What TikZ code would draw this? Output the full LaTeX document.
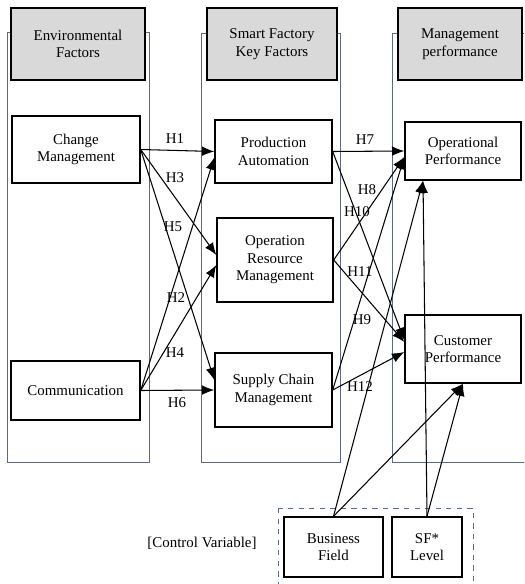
\documentclass[tikz,border=0pt]{standalone}
\usepackage{fontspec}
\setmainfont{Liberation Serif}
\usetikzlibrary{arrows.meta}
\definecolor{panelgray}{RGB}{95,105,125}
\definecolor{headfill}{RGB}{217,217,217}

\begin{document}
\begin{tikzpicture}[x=0.02cm, y=-0.02cm,
        font=\fontsize{8.5}{10}\selectfont,
        panel/.style={draw=panelgray, line width=0.5pt},
        header/.style={draw, fill=headfill, line width=0.8pt, align=center, minimum height=1.44cm},
        factor/.style={draw, fill=white, line width=0.8pt, align=center},
        hyp/.style={-{Latex[length=7pt,width=5.5pt]}, line width=0.6pt},
        hlabel/.style={inner sep=1pt}]
        \useasboundingbox (0,0) rectangle (524,584);
        \clip (0,0) rectangle (524,584);

        % columns
        \draw[panel] (7,32) rectangle (149,462);
        \draw[panel] (201,33) rectangle (340,462);
        \draw[panel] (392,33) rectangle (540,462);
        \draw[panelgray, dashed, line width=0.5pt] (278,508) rectangle (473,600);

        \node[header, minimum width=2.68cm] at (78,44)  (envhead) {Environmental\\Factors};
        \node[header, minimum width=2.60cm] at (272,44) (sfhead)  {Smart Factory\\Key Factors};
        \node[header, minimum width=2.48cm] at (460,44) (mphead)  {Management\\performance};

        % factors
        \node[factor, minimum width=2.56cm, minimum height=1.34cm] at (76,149.5)  (cm)  {Change\\Management};
        \node[factor, minimum width=2.58cm, minimum height=1.18cm] at (75.5,390.5) (com) {Communication};
        \node[factor, minimum width=2.34cm, minimum height=1.26cm] at (273.5,151.5) (pa)  {Production\\Automation};
        \node[factor, minimum width=2.32cm, minimum height=1.68cm] at (275,260)    (orm) {Operation\\Resource\\Management};
        \node[factor, minimum width=2.34cm, minimum height=1.48cm] at (273.5,390)  (scm) {Supply Chain\\Management};
        \node[factor, minimum width=2.32cm, minimum height=1.16cm] at (463,151)    (op)  {Operational\\Performance};
        \node[factor, minimum width=2.32cm, minimum height=1.36cm] at (463,349)    (cp)  {Customer\\Performance};
        \node[factor, minimum width=1.98cm, minimum height=1.20cm] at (333.5,547)  (bf)  {Business\\Field};
        \node[factor, minimum width=1.40cm, minimum height=1.20cm] at (427,547)    (sfl) {SF*\\Level};
        \node at (202,543) (ctrl) {[Control Variable]};

        % hypotheses
        \draw[hyp] (cm.east) -- (pa.west);\draw[hyp] (cm.east) -- ([yshift=0.1cm]orm.west);\draw[hyp] (cm.east) -- ([yshift=0.2cm]scm.west);
        \draw[hyp] (com.east) -- ([yshift=-0.12cm]pa.west);\draw[hyp] (com.east) -- ([yshift=-0.1cm]orm.west);\draw[hyp] (com.east) -- (scm.west);
        \draw[hyp] (pa.east) -- (op.west);\draw[hyp] (pa.east) -- ([yshift=0.18cm]cp.west);
        \draw[hyp] (orm.east) -- ([yshift=-0.12cm]op.west);\draw[hyp] (orm.east) -- ([yshift=0.14cm]cp.west);
        \draw[hyp] (scm.east) -- ([yshift=-0.12cm]op.west);\draw[hyp] (scm.east) -- ([yshift=-0.06cm]cp.west);
        \draw[hyp] (bf.north) -- ([xshift=-0.8cm]op.south);\draw[hyp] (bf.north) -- (cp.south);
        \draw[hyp] (sfl.north) -- ([xshift=-0.8cm]op.south);\draw[hyp] (sfl.north) -- (cp.south);

        \node[hlabel] at (175,139) (h1) {H1};
        \node[hlabel] at (175,178) (h3) {H3};
        \node[hlabel] at (173,227) (h5) {H5};
        \node[hlabel] at (176,298) (h2) {H2};
        \node[hlabel] at (175,353) (h4) {H4};
        \node[hlabel] at (177,403) (h6) {H6};
        \node[hlabel] at (365,140) (h7) {H7};
        \node[hlabel] at (367,190) (h8) {H8};
        \node[hlabel] at (357,212) (h10) {H10};
        \node[hlabel] at (360,272) (h11) {H11};
        \node[hlabel] at (362,320) (h9) {H9};
        \node[hlabel] at (360,387) (h12) {H12};
    \end{tikzpicture}
\end{document}
